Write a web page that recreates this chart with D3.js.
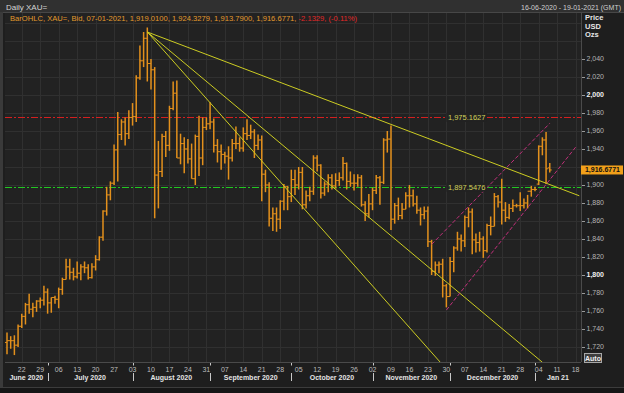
<!DOCTYPE html>
<html><head><meta charset="utf-8">
<script src="https://cdn.jsdelivr.net/npm/d3@7"></script>
<style>
body{margin:0;background:#1c1c1c;}
svg{display:block;font-family:"Liberation Sans",Arial,sans-serif;}
</style>
</head><body>
<svg id="c" width="624" height="393"></svg>
<script>
// ---- data (daily OHLC, XAU= bid) ----
const dates = [
 "2020-06-16","2020-06-17","2020-06-18","2020-06-19","2020-06-22","2020-06-23","2020-06-24","2020-06-25","2020-06-26","2020-06-29","2020-06-30",
 "2020-07-01","2020-07-02","2020-07-03","2020-07-06","2020-07-07","2020-07-08","2020-07-09","2020-07-10","2020-07-13","2020-07-14","2020-07-15","2020-07-16","2020-07-17","2020-07-20","2020-07-21","2020-07-22","2020-07-23","2020-07-24","2020-07-27","2020-07-28","2020-07-29","2020-07-30","2020-07-31",
 "2020-08-03","2020-08-04","2020-08-05","2020-08-06","2020-08-07","2020-08-10","2020-08-11","2020-08-12","2020-08-13","2020-08-14","2020-08-17","2020-08-18","2020-08-19","2020-08-20","2020-08-21","2020-08-24","2020-08-25","2020-08-26","2020-08-27","2020-08-28","2020-08-31",
 "2020-09-01","2020-09-02","2020-09-03","2020-09-04","2020-09-07","2020-09-08","2020-09-09","2020-09-10","2020-09-11","2020-09-14","2020-09-15","2020-09-16","2020-09-17","2020-09-18","2020-09-21","2020-09-22","2020-09-23","2020-09-24","2020-09-25","2020-09-28","2020-09-29","2020-09-30",
 "2020-10-01","2020-10-02","2020-10-05","2020-10-06","2020-10-07","2020-10-08","2020-10-09","2020-10-12","2020-10-13","2020-10-14","2020-10-15","2020-10-16","2020-10-19","2020-10-20","2020-10-21","2020-10-22","2020-10-23","2020-10-26","2020-10-27","2020-10-28","2020-10-29","2020-10-30",
 "2020-11-02","2020-11-03","2020-11-04","2020-11-05","2020-11-06","2020-11-09","2020-11-10","2020-11-11","2020-11-12","2020-11-13","2020-11-16","2020-11-17","2020-11-18","2020-11-19","2020-11-20","2020-11-23","2020-11-24","2020-11-25","2020-11-26","2020-11-27","2020-11-30",
 "2020-12-01","2020-12-02","2020-12-03","2020-12-04","2020-12-07","2020-12-08","2020-12-09","2020-12-10","2020-12-11","2020-12-14","2020-12-15","2020-12-16","2020-12-17","2020-12-18","2020-12-21","2020-12-22","2020-12-23","2020-12-24","2020-12-25","2020-12-28","2020-12-29","2020-12-30","2020-12-31",
 "2021-01-01","2021-01-04","2021-01-05","2021-01-06","2021-01-07"
];
const open = [
 1725,1727,1727,1722,1743,1754,1767,1762,1764,1771,1772,
 1781,1769,1775,1773,1784,1795,1809,1803,1798,1802,1809,1808,1797,1809,1817,1842,1871,1889,1902,1939,1956,1970,1957,
 1975,1976,2019,2038,2063,2035,2028,1911,1915,1954,1944,1985,2002,1930,1946,1940,1929,1907,1954,1930,1964,
 1968,1970,1944,1937,1934,1932,1930,1946,1946,1941,1957,1955,1959,1944,1950,1912,1900,1863,1868,1862,1882,1898,
 1887,1906,1900,1914,1878,1888,1893,1930,1922,1891,1901,1908,1899,1905,1908,1924,1904,1902,1902,1908,1878,1868,
 1879,1894,1908,1903,1950,1951,1862,1877,1866,1873,1888,1888,1879,1872,1867,1871,1837,1804,1811,1812,1788,
 1776,1815,1830,1840,1838,1864,1870,1839,1836,1840,1827,1855,1854,1887,1881,1872,1864,1874,1877,1877,1877,1880,1893,
 1895,1901,1943,1950,1919.01
];
const high = [
 1736,1732,1733,1745,1757,1769,1779,1769,1772,1775,1788,
 1785,1775,1777,1786,1797,1818,1818,1808,1815,1812,1815,1812,1813,1822,1843,1872,1898,1904,1945,1981,1973,1975,1983,
 1991,2022,2055,2070,2075,2040,2031,1949,1957,1960,1988,2015,2016,1957,1953,1951,1946,1956,1977,1975,1975,
 1992,1974,1951,1945,1937,1943,1951,1965,1953,1964,1973,1967,1962,1956,1955,1917,1903,1875,1875,1883,1901,1899,
 1917,1917,1920,1920,1894,1898,1933,1933,1923,1904,1912,1912,1913,1914,1931,1925,1915,1912,1912,1911,1882,1890,
 1897,1911,1910,1952,1960,1966,1880,1886,1880,1892,1900,1895,1888,1875,1876,1876,1839,1815,1815,1818,1790,
 1820,1832,1848,1845,1866,1875,1874,1846,1848,1843,1857,1865,1891,1889,1907,1881,1879,1884,1879,1892,1885,1889,1899,
 1898,1944,1953,1959,1924.3279
];
const low = [
 1712,1718,1711,1720,1741,1745,1757,1753,1759,1763,1766,
 1757,1758,1768,1763,1778,1795,1795,1794,1796,1794,1802,1795,1796,1805,1816,1838,1866,1883,1900,1904,1950,1944,1951,
 1966,1970,2017,2031,2015,2006,1863,1874,1909,1931,1938,1983,1930,1923,1913,1924,1907,1900,1910,1922,1961,
 1962,1936,1925,1917,1924,1906,1926,1940,1937,1937,1950,1951,1930,1939,1882,1892,1854,1849,1848,1851,1872,1872,
 1881,1889,1895,1873,1874,1882,1889,1915,1885,1888,1892,1895,1896,1899,1905,1895,1898,1894,1898,1876,1860,1864,
 1872,1890,1878,1901,1936,1850,1857,1861,1862,1873,1875,1876,1868,1855,1862,1831,1800,1799,1802,1775,1764,
 1776,1803,1827,1826,1831,1853,1823,1825,1826,1819,1825,1844,1854,1875,1856,1859,1862,1870,1875,1871,1874,1874,1887,
 1893,1900,1933,1901,1913.79
];
const close = [
 1727,1727,1722,1743,1754,1767,1762,1764,1771,1772,1781,
 1769,1775,1773,1784,1795,1809,1803,1798,1802,1809,1808,1797,1809,1817,1842,1871,1889,1902,1939,1956,1970,1957,1975,
 1976,2019,2038,2063,2035,2028,1911,1915,1954,1944,1985,2002,1930,1946,1940,1929,1907,1954,1930,1964,1968,
 1970,1944,1937,1934,1932,1930,1946,1946,1941,1957,1955,1959,1944,1950,1912,1900,1863,1868,1862,1882,1898,1887,
 1906,1900,1914,1878,1888,1893,1930,1922,1891,1901,1908,1899,1905,1908,1924,1904,1902,1902,1908,1878,1868,1879,
 1894,1908,1903,1950,1951,1862,1877,1866,1873,1888,1888,1879,1872,1867,1871,1837,1804,1811,1812,1788,1776,
 1815,1830,1840,1838,1864,1870,1839,1836,1840,1827,1855,1854,1887,1881,1872,1864,1874,1877,1877,1877,1880,1893,1895,
 1895,1943,1950,1918,1916.6771
];
// drawn studies: [startDate, startPrice, endDate, endPrice]
const yellowLines = [
 ["2020-08-07",2070,"2021-01-19",1888],
 ["2020-08-07",2070,"2021-01-05",1703],
 ["2020-08-07",2070,"2020-11-27",1700]
];
const channelLines = [
 ["2020-11-24",1834,"2021-01-07",1968.5],
 ["2020-11-30",1761,"2021-01-18",1942]
];
const levelValues = [1975.1627, 1897.5476];
const levelLabels = ["1,975.1627", "1,897.5476"];
const lastPrice = 1916.6771;
const yTicks = [1720,1740,1760,1780,1800,1820,1840,1860,1880,1900,1920,1940,1960,1980,2000,2020,2040,2060,2080];
const yLabelMax = 2040;
const monthNames = ["June 2020","July 2020","August 2020","September 2020","October 2020","November 2020","December 2020","Jan 21"];
const headerLeft = "Daily XAU=";
const headerRight = "16-06-2020 - 19-01-2021 (GMT)";
const legendMain = "BarOHLC, XAU=, Bid, 07-01-2021, 1,919.0100, 1,924.3279, 1,913.7900, 1,916.6771, ";
const legendChange = "-2.1329, (-0.11%)";

// ---- layout ----
const W = 624, H = 393;
const P = {l: 5, r: 581, t: 13, b: 362};
const svg = d3.select("#c");

const parse = d3.utcParse("%Y-%m-%d"), fmt = d3.utcFormat("%Y-%m-%d");
const calendar = d3.utcDay.range(parse("2020-06-16"), parse("2021-01-20"))
  .filter(d => d.getUTCDay() > 0 && d.getUTCDay() < 6).map(fmt);

const x = d3.scalePoint().domain(calendar).range([7, 579.3]);
const y = d3.scaleLinear().domain([1703.3, 2091.1]).range([P.b, P.t]);

// backgrounds
svg.append("rect").attr("width", W).attr("height", H).attr("fill", "#1e1e1e");
svg.append("rect").attr("x", P.l).attr("y", P.t).attr("width", P.r - P.l).attr("height", P.b - P.t).attr("fill", "#222222");
svg.append("rect").attr("x", 0).attr("y", 0).attr("width", W).attr("height", 12).attr("fill", "#303030");
svg.append("line").attr("x1", 0).attr("x2", W).attr("y1", 12.5).attr("y2", 12.5).attr("stroke", "#474747");
svg.append("rect").attr("x", 0).attr("y", 12).attr("width", 3).attr("height", 376).attr("fill", "#3a3a3a");
svg.append("rect").attr("x", 0).attr("y", 387).attr("width", W).attr("height", 6).attr("fill", "#161616");
svg.append("line").attr("x1", 0).attr("x2", W).attr("y1", 387.5).attr("y2", 387.5).attr("stroke", "#3c3c3c");

svg.append("defs").append("clipPath").attr("id", "plot")
  .append("rect").attr("x", P.l).attr("y", P.t).attr("width", P.r - P.l).attr("height", P.b - P.t);

// grid
const mondays = calendar.filter(d => parse(d).getUTCDay() === 1);
const grid = svg.append("g").attr("stroke", "#303030").attr("stroke-width", 1);
grid.selectAll(".v").data(mondays).join("line")
  .attr("x1", d => Math.round(x(d)) + 0.5).attr("x2", d => Math.round(x(d)) + 0.5)
  .attr("y1", P.t).attr("y2", P.b);
grid.selectAll(".h").data(yTicks).join("line")
  .attr("x1", P.l).attr("x2", P.r)
  .attr("y1", d => Math.round(y(d)) + 0.5).attr("y2", d => Math.round(y(d)) + 0.5);

// header
svg.append("text").attr("x", 6).attr("y", 9.5).attr("fill", "#d6d6d6").attr("font-size", 8).text(headerLeft);
svg.append("text").attr("x", 621).attr("y", 9.5).attr("text-anchor", "end").attr("fill", "#cfcfcf").attr("font-size", 7).text(headerRight);
const leg = svg.append("text").attr("x", 10).attr("y", 21).attr("font-size", 7.6);
leg.append("tspan").attr("fill", "#e39a2c").text(legendMain);
leg.append("tspan").attr("fill", "#e02828").text(legendChange);

// level lines (behind bars)
const plotG = svg.append("g").attr("clip-path", "url(#plot)");
const levelColors = ["#d42020", "#22c622"];
levelValues.forEach((v, i) => {
  plotG.append("line").attr("x1", P.l).attr("x2", P.r)
    .attr("y1", Math.round(y(v)) + 0.5).attr("y2", Math.round(y(v)) + 0.5)
    .style("stroke", levelColors[i]).attr("stroke-width", 1.1).attr("stroke-dasharray", "7,2,2,2");
});

// OHLC bars
const bars = dates.map((d, i) => ({d, o: open[i], h: high[i], l: low[i], c: close[i]}));
const barG = plotG.append("g").attr("stroke", "#e3901c");
const bg = barG.selectAll("g").data(bars).join("g");
bg.append("line").attr("x1", b => x(b.d)).attr("x2", b => x(b.d))
  .attr("y1", b => y(b.h)).attr("y2", b => y(b.l)).attr("stroke-width", 1.5);
bg.append("line").attr("x1", b => x(b.d) - 2).attr("x2", b => x(b.d))
  .attr("y1", b => y(b.o)).attr("y2", b => y(b.o)).attr("stroke-width", 1);
bg.append("line").attr("x1", b => x(b.d)).attr("x2", b => x(b.d) + 2)
  .attr("y1", b => y(b.c)).attr("y2", b => y(b.c)).attr("stroke-width", 1);

// trend lines
plotG.selectAll(".yl").data(yellowLines).join("line")
  .attr("x1", t => x(t[0])).attr("y1", t => y(t[1]))
  .attr("x2", t => x(t[2])).attr("y2", t => y(t[3]))
  .attr("stroke", "#cccc22").attr("stroke-width", 1);
plotG.selectAll(".cl").data(channelLines).join("line")
  .attr("x1", t => x(t[0])).attr("y1", t => y(t[1]))
  .attr("x2", t => x(t[2])).attr("y2", t => y(t[3]))
  .attr("stroke", "#c0307a").attr("stroke-width", 1).attr("stroke-dasharray", "4,2");

// level labels
const labelX = (x("2020-12-07") + x("2020-12-08")) / 2;
levelValues.forEach((v, i) => {
  const t = plotG.append("text").attr("x", labelX).attr("y", y(v)).attr("dy", "0.35em")
    .attr("text-anchor", "middle").attr("font-size", 7.5).attr("fill", "#d2d25a").text(levelLabels[i]);
  const bb = t.node().getBBox();
  plotG.insert("rect", () => t.node()).attr("x", bb.x - 1.5).attr("y", bb.y).attr("width", bb.width + 3).attr("height", bb.height).attr("fill", "#222222");
});

// right axis
svg.append("line").attr("x1", P.r + 0.5).attr("x2", P.r + 0.5).attr("y1", 12).attr("y2", P.b).attr("stroke", "#4a4a4a");
const ya = svg.append("g");
const ly = y(lastPrice);
const shown = yTicks.filter(v => v <= yLabelMax);
const labelled = shown.filter(v => Math.abs(y(v) - ly) > 7);
ya.selectAll("line").data(shown).join("line")
  .attr("x1", P.r + 1).attr("x2", P.r + 4)
  .attr("y1", d => Math.round(y(d)) + 0.5).attr("y2", d => Math.round(y(d)) + 0.5).attr("stroke", "#9a9a9a");
ya.selectAll("text").data(labelled).join("text")
  .attr("x", P.r + 5.5).attr("y", d => y(d)).attr("dy", "0.35em").attr("font-size", 7)
  .attr("fill", d => d % 200 === 0 ? "#f0f0f0" : "#b4b4b4")
  .attr("font-weight", d => d % 200 === 0 ? "bold" : "normal")
  .text(d => d3.format(",")(d));
["Price", "USD", "Ozs"].forEach((s, i) => {
  svg.append("text").attr("x", 585).attr("y", 20 + i * 8.7).attr("font-size", 7.5)
    .attr("font-weight", "bold").attr("fill", "#e6e6e6").text(s);
});
// last price tag
svg.append("rect").attr("x", P.r).attr("y", ly - 4.5).attr("width", W - P.r - 1).attr("height", 9).attr("fill", "#f2a01a");
svg.append("text").attr("x", (P.r + W) / 2).attr("y", ly).attr("dy", "0.36em").attr("text-anchor", "middle")
  .attr("font-size", 7).attr("font-weight", "bold").attr("fill", "#111").text(d3.format(",.4f")(lastPrice));
// Auto button
svg.append("rect").attr("x", 584.5).attr("y", 353.5).attr("width", 17).attr("height", 9).attr("fill", "#3e3e3e").attr("stroke", "#a8a8a8");
svg.append("text").attr("x", 593).attr("y", 358).attr("dy", "0.36em").attr("text-anchor", "middle")
  .attr("font-size", 7).attr("font-weight", "bold").attr("fill", "#f0f0f0").text("Auto");

// bottom axis
svg.append("line").attr("x1", P.l).attr("x2", P.r).attr("y1", P.b + 0.5).attr("y2", P.b + 0.5).attr("stroke", "#4a4a4a");
svg.append("g").selectAll("text").data(mondays).join("text")
  .attr("x", d => x(d)).attr("y", 372).attr("text-anchor", "middle").attr("font-size", 7)
  .attr("fill", "#bdbdbd").text(d => d3.utcFormat("%d")(parse(d)));
const monthStarts = calendar.filter((d, i) => i > 0 && d.slice(5, 7) !== calendar[i - 1].slice(5, 7));
const seps = [P.l, ...monthStarts.map(d => x(d)), P.r];
svg.append("g").selectAll("line").data(monthStarts).join("line")
  .attr("x1", d => Math.round(x(d)) + 0.5).attr("x2", d => Math.round(x(d)) + 0.5)
  .attr("y1", 373).attr("y2", 381).attr("stroke", "#c8c8c8");
svg.append("g").selectAll("line").data(monthStarts).join("line")
  .attr("x1", d => Math.round(x(d)) + 0.5).attr("x2", d => Math.round(x(d)) + 0.5)
  .attr("y1", 363).attr("y2", 365.5).attr("stroke", "#c8c8c8");
svg.append("g").selectAll("text").data(monthNames).join("text")
  .attr("x", (d, i) => (seps[i] + seps[i + 1]) / 2).attr("y", 379.5).attr("text-anchor", "middle")
  .attr("font-size", 7).attr("font-weight", "bold").attr("fill", "#e4e4e4").text(d => d);
</script>
</body></html>
